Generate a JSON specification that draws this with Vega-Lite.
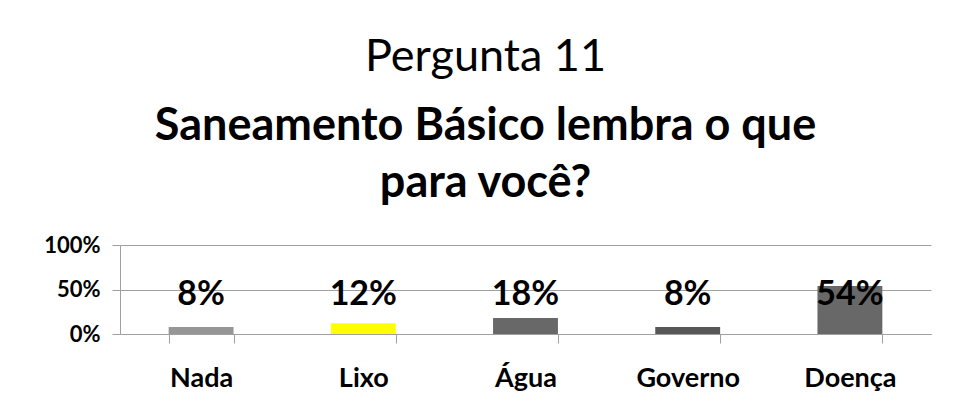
{
  "$schema": "https://vega.github.io/schema/vega-lite/v6.json",
  "autosize": "none",
  "width": 811,
  "height": 89,
  "padding": {"left": 120, "top": 245, "right": 31, "bottom": 84},
  "background": "white",
  "title": {
    "text": "Pergunta 11",
    "subtitle": ["Saneamento Básico lembra o que", "para você?"],
    "anchor": "middle",
    "frame": "group",
    "dx": -40,
    "offset": 28,
    "font": "Lato",
    "fontSize": 45,
    "fontWeight": "normal",
    "color": "black",
    "subtitleFont": "Lato",
    "subtitleFontSize": 45,
    "subtitleFontWeight": "bold",
    "subtitleColor": "black",
    "subtitleLineHeight": 57,
    "subtitlePadding": 24
  },
  "data": {
    "values": [
      {"categoria": "Nada", "valor": 0.08, "rotulo": "8%"},
      {"categoria": "Lixo", "valor": 0.12, "rotulo": "12%"},
      {"categoria": "Água", "valor": 0.18, "rotulo": "18%"},
      {"categoria": "Governo", "valor": 0.08, "rotulo": "8%"},
      {"categoria": "Doença", "valor": 0.54, "rotulo": "54%"}
    ]
  },
  "encoding": {
    "x": {
      "field": "categoria",
      "type": "nominal",
      "sort": null,
      "scale": {"paddingInner": 0.6, "paddingOuter": 0.3},
      "axis": {
        "title": null,
        "labelAngle": 0,
        "labelFont": "Lato",
        "labelFontSize": 27,
        "labelFontWeight": "bold",
        "labelColor": "black",
        "labelPadding": 22,
        "tickBand": "extent",
        "tickSize": 9,
        "tickColor": "#a0a0a0",
        "domainColor": "#a0a0a0",
        "grid": false
      }
    }
  },
  "layer": [
    {
      "mark": {"type": "bar"},
      "encoding": {
        "y": {
          "field": "valor",
          "type": "quantitative",
          "scale": {"domain": [0, 1]},
          "axis": {
            "title": null,
            "values": [0, 0.5, 1],
            "format": "~%",
            "labelFont": "Lato",
            "labelFontSize": 22,
            "labelFontWeight": "bold",
            "labelColor": "black",
            "labelPadding": 12,
            "tickSize": 8,
            "tickColor": "#a0a0a0",
            "domainColor": "#a0a0a0",
            "gridColor": "#a0a0a0",
            "grid": true
          }
        },
        "color": {
          "field": "categoria",
          "type": "nominal",
          "sort": null,
          "scale": {
            "domain": ["Nada", "Lixo", "Água", "Governo", "Doença"],
            "range": ["#969696", "#ffff00", "#686868", "#575757", "#686868"]
          },
          "legend": null
        }
      }
    },
    {
      "mark": {"type": "text", "font": "Lato", "fontSize": 34, "fontWeight": "bold", "color": "black", "baseline": "alphabetic"},
      "encoding": {
        "y": {"datum": 0.33},
        "text": {"field": "rotulo"}
      }
    }
  ],
  "config": {"view": {"stroke": null}}
}
